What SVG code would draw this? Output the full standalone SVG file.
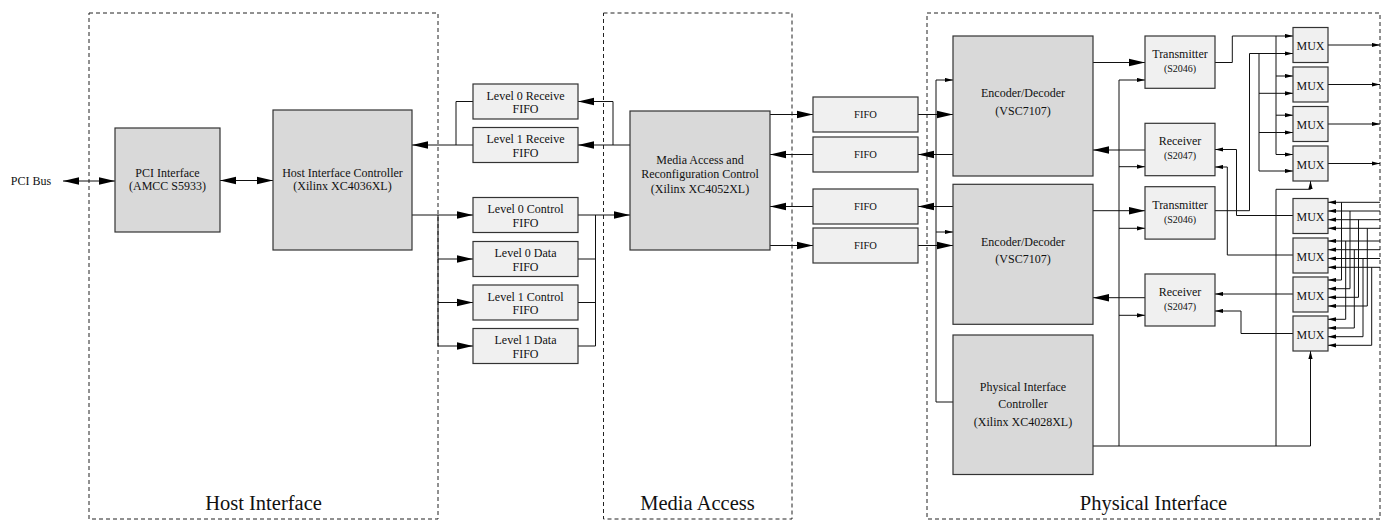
<svg xmlns="http://www.w3.org/2000/svg" width="1390" height="521" viewBox="0 0 1390 521">
  <style>
    .big { fill:#d9d9d9; stroke:#333; stroke-width:1.2 }
    .sml { fill:#f0f0f0; stroke:#333; stroke-width:1.2 }
    text { font-family:"Liberation Serif","Times New Roman",serif; font-size:12px; text-anchor:middle; fill:#111 }
    .s10 { font-size:10px }
    .s105 { font-size:10.5px }
    .lbl { font-size:20.5px }
    .frame { fill:none; stroke:#222; stroke-width:1; stroke-dasharray:4 3 }
    .w { fill:none; stroke:#111; stroke-width:1 }
    .a { marker-end:url(#ab) }
    .aa { marker-start:url(#ab); marker-end:url(#ab) }
    .b { marker-end:url(#sm) }
  </style>
  <defs>
    <marker id="ab" markerUnits="userSpaceOnUse" markerWidth="16" markerHeight="9" refX="16" refY="4.5" orient="auto-start-reverse">
      <path d="M0,0.7 L16,4.5 L0,8.3 z" fill="#000"/>
    </marker>
    <marker id="sm" markerUnits="userSpaceOnUse" markerWidth="8" markerHeight="5" refX="8" refY="2.5" orient="auto">
      <path d="M0,0.4 L8,2.5 L0,4.6 z" fill="#000"/>
    </marker>
  </defs>
  <rect width="1390" height="521" fill="#fff"/>

  <!-- dashed subsystem frames -->
  <g id="frames">
    <rect class="frame" x="89" y="13" width="349" height="506"/>
    <rect class="frame" x="603.5" y="13" width="188.5" height="506"/>
    <rect class="frame" x="927" y="13" width="453" height="506"/>
    <text class="lbl" x="263.5" y="510">Host Interface</text>
    <text class="lbl" x="697.5" y="510">Media Access</text>
    <text class="lbl" x="1153.5" y="510">Physical Interface</text>
  </g>

  <!-- connectors -->
  <g id="connectors">
    <path class="w aa" d="M63,181 H115"/>
    <path class="w aa" d="M220,180.5 H273"/>
    <!-- receive FIFOs to host controller -->
    <path class="w" d="M473,101.5 H456 V145"/>
    <path class="w a" d="M473,145 H412"/>
    <path class="w a" d="M630,145 H578"/>
    <path class="w a" d="M613,145 V101.5 H578"/>
    <!-- host controller to transmit FIFOs -->
    <path class="w a" d="M412,215 H473"/>
    <path class="w" d="M438,215 V346"/>
    <path class="w a" d="M438,259 H473"/>
    <path class="w a" d="M438,302.5 H473"/>
    <path class="w a" d="M438,346 H473"/>
    <path class="w a" d="M578,215 H630"/>
    <path class="w" d="M595.5,215 V346 M578,259 H595.5 M578,302.5 H595.5 M578,346 H595.5"/>
    <!-- media access FIFOs -->
    <path class="w a" d="M770,114.5 H813"/>
    <path class="w a" d="M918,114.5 H953"/>
    <path class="w a" d="M813,154.5 H770"/>
    <path class="w a" d="M953,154.5 H918"/>
    <path class="w a" d="M813,206.5 H770"/>
    <path class="w a" d="M953,206.5 H918"/>
    <path class="w a" d="M770,245.5 H813"/>
    <path class="w a" d="M918,245.5 H953"/>
    <!-- physical controller to encoders -->
    <path class="w b" d="M953,402 H936 V80 H953"/>
    <path class="w b" d="M936,232 H953"/>
    <!-- encoders to transceivers -->
    <path class="w a" d="M1093,62.5 H1145"/>
    <path class="w a" d="M1145,150 H1093"/>
    <path class="w a" d="M1093,210.7 H1145"/>
    <path class="w a" d="M1145,297.7 H1093"/>
    <!-- physical controller control lines -->
    <path class="w b" d="M1093,446 H1310.5 V351"/>
    <path class="w b" d="M1119,446 V80 H1145"/>
    <path class="w b" d="M1119,166.7 H1145"/>
    <path class="w b" d="M1119,228.3 H1145"/>
    <path class="w b" d="M1119,315.3 H1145"/>
    <path class="w b" d="M1276,446 V189.3 H1310.5 V181"/>
    <!-- transmitter outputs to output MUXes -->
    <path class="w b" d="M1215,62.5 H1232.3 V36 H1293"/>
    <path class="w" d="M1276,36 V154.5"/>
    <path class="w b" d="M1276,76 H1293"/>
    <path class="w b" d="M1276,115.2 H1293"/>
    <path class="w b" d="M1276,154.5 H1293"/>
    <path class="w b" d="M1215,210.7 H1249.5 V53.5 H1293"/>
    <path class="w" d="M1259,53.5 V171"/>
    <path class="w b" d="M1259,93.3 H1293"/>
    <path class="w b" d="M1259,132.5 H1293"/>
    <path class="w b" d="M1259,171 H1293"/>
    <!-- input MUXes to receivers -->
    <path class="w b" d="M1293,215.5 H1236.5 V149.5 H1215"/>
    <path class="w b" d="M1293,255 H1227.3 V167 H1215"/>
    <path class="w b" d="M1293,294 H1215"/>
    <path class="w b" d="M1293,333.5 H1241 V311 H1215"/>
    <!-- output MUXes to links -->
    <path class="w b" d="M1328,45 H1380"/>
    <path class="w b" d="M1328,84.5 H1380"/>
    <path class="w b" d="M1328,124 H1380"/>
    <path class="w b" d="M1328,163.5 H1380"/>
    <!-- links to input MUXes -->
    <path class="w b" d="M1380,202.3 H1328"/>
    <path class="w b" d="M1380,211 H1328"/>
    <path class="w b" d="M1380,219.7 H1328"/>
    <path class="w b" d="M1380,228.3 H1328"/>
    <path class="w b" d="M1380,241 H1328"/>
    <path class="w b" d="M1380,249.7 H1328"/>
    <path class="w b" d="M1380,258.5 H1328"/>
    <path class="w b" d="M1380,267.3 H1328"/>
    <path class="w b" d="M1341.5,202.3 V280 H1328"/>
    <path class="w b" d="M1350,211 V288.7 H1328"/>
    <path class="w b" d="M1358.5,219.7 V297.3 H1328"/>
    <path class="w b" d="M1367.3,228.3 V306 H1328"/>
    <path class="w b" d="M1345.7,241 V319.3 H1328"/>
    <path class="w b" d="M1354.3,249.7 V328 H1328"/>
    <path class="w b" d="M1363,258.5 V336.7 H1328"/>
    <path class="w b" d="M1371.7,267.3 V345.3 H1328"/>
  </g>

  <text x="31" y="185">PCI Bus</text>

  <g id="pci-interface">
    <rect class="big" x="115" y="128" width="105" height="104"/>
    <text x="167.5" y="177">PCI Interface</text>
    <text x="167.5" y="190">(AMCC S5933)</text>
  </g>
  <g id="host-controller">
    <rect class="big" x="273" y="110" width="139" height="140"/>
    <text x="342.5" y="177">Host Interface Controller</text>
    <text x="342.5" y="190">(Xilinx XC4036XL)</text>
  </g>

  <g id="l0-receive">
    <rect class="sml" x="473" y="84" width="105" height="35"/>
    <text x="525.5" y="99.8">Level 0 Receive</text>
    <text x="525.5" y="113">FIFO</text>
  </g>
  <g id="l1-receive">
    <rect class="sml" x="473" y="127.5" width="105" height="35"/>
    <text x="525.5" y="143.3">Level 1 Receive</text>
    <text x="525.5" y="156.5">FIFO</text>
  </g>
  <g id="l0-control">
    <rect class="sml" x="473" y="197.5" width="105" height="35"/>
    <text x="525.5" y="213.3">Level 0 Control</text>
    <text x="525.5" y="226.5">FIFO</text>
  </g>
  <g id="l0-data">
    <rect class="sml" x="473" y="241.5" width="105" height="35"/>
    <text x="525.5" y="257.3">Level 0 Data</text>
    <text x="525.5" y="270.5">FIFO</text>
  </g>
  <g id="l1-control">
    <rect class="sml" x="473" y="285" width="105" height="35"/>
    <text x="525.5" y="300.8">Level 1 Control</text>
    <text x="525.5" y="314">FIFO</text>
  </g>
  <g id="l1-data">
    <rect class="sml" x="473" y="328.5" width="105" height="35"/>
    <text x="525.5" y="344.3">Level 1 Data</text>
    <text x="525.5" y="357.5">FIFO</text>
  </g>

  <g id="media-access">
    <rect class="big" x="630" y="111" width="140" height="139"/>
    <text x="700" y="163.5">Media Access and</text>
    <text x="700" y="177.5">Reconfiguration Control</text>
    <text x="700" y="193">(Xilinx XC4052XL)</text>
  </g>

  <g id="fifo-a"><rect class="sml" x="813" y="97" width="105" height="35"/><text class="s105" x="865.5" y="117.5">FIFO</text></g>
  <g id="fifo-b"><rect class="sml" x="813" y="137" width="105" height="35"/><text class="s105" x="865.5" y="157.5">FIFO</text></g>
  <g id="fifo-c"><rect class="sml" x="813" y="189" width="105" height="35"/><text class="s105" x="865.5" y="209.5">FIFO</text></g>
  <g id="fifo-d"><rect class="sml" x="813" y="228" width="105" height="35"/><text class="s105" x="865.5" y="248.5">FIFO</text></g>

  <g id="encoder-1">
    <rect class="big" x="953" y="36" width="140" height="140"/>
    <text x="1023" y="96.7">Encoder/Decoder</text>
    <text x="1023" y="114.7">(VSC7107)</text>
  </g>
  <g id="encoder-2">
    <rect class="big" x="953" y="184.3" width="140" height="140"/>
    <text x="1023" y="245.7">Encoder/Decoder</text>
    <text x="1023" y="263.3">(VSC7107)</text>
  </g>
  <g id="phy-controller">
    <rect class="big" x="953" y="335" width="140" height="139.5"/>
    <text x="1023" y="390.7">Physical Interface</text>
    <text x="1023" y="407.5">Controller</text>
    <text x="1023" y="425.7">(Xilinx XC4028XL)</text>
  </g>

  <g id="transmitter-1">
    <rect class="sml" x="1145" y="36" width="70" height="52.3"/>
    <text x="1180" y="58.3">Transmitter</text>
    <text class="s10" x="1180" y="71.7">(S2046)</text>
  </g>
  <g id="receiver-1">
    <rect class="sml" x="1145" y="123.3" width="70" height="52.4"/>
    <text x="1180" y="144.7">Receiver</text>
    <text class="s10" x="1180" y="159">(S2047)</text>
  </g>
  <g id="transmitter-2">
    <rect class="sml" x="1145" y="186.7" width="70" height="52.4"/>
    <text x="1180" y="209">Transmitter</text>
    <text class="s10" x="1180" y="222.6">(S2046)</text>
  </g>
  <g id="receiver-2">
    <rect class="sml" x="1145" y="274" width="70" height="52"/>
    <text x="1180" y="295.5">Receiver</text>
    <text class="s10" x="1180" y="309.5">(S2047)</text>
  </g>

  <g id="mux-1"><rect class="sml" x="1293" y="27.5" width="35" height="35"/><text x="1310.5" y="50">MUX</text></g>
  <g id="mux-2"><rect class="sml" x="1293" y="67" width="35" height="35"/><text x="1310.5" y="89.5">MUX</text></g>
  <g id="mux-3"><rect class="sml" x="1293" y="106.5" width="35" height="35"/><text x="1310.5" y="129">MUX</text></g>
  <g id="mux-4"><rect class="sml" x="1293" y="146" width="35" height="35"/><text x="1310.5" y="168.5">MUX</text></g>
  <g id="mux-5"><rect class="sml" x="1293" y="198.5" width="35" height="35"/><text x="1310.5" y="221">MUX</text></g>
  <g id="mux-6"><rect class="sml" x="1293" y="238" width="35" height="35"/><text x="1310.5" y="260.5">MUX</text></g>
  <g id="mux-7"><rect class="sml" x="1293" y="277" width="35" height="35"/><text x="1310.5" y="299.5">MUX</text></g>
  <g id="mux-8"><rect class="sml" x="1293" y="316" width="35" height="35"/><text x="1310.5" y="338.5">MUX</text></g>
</svg>
